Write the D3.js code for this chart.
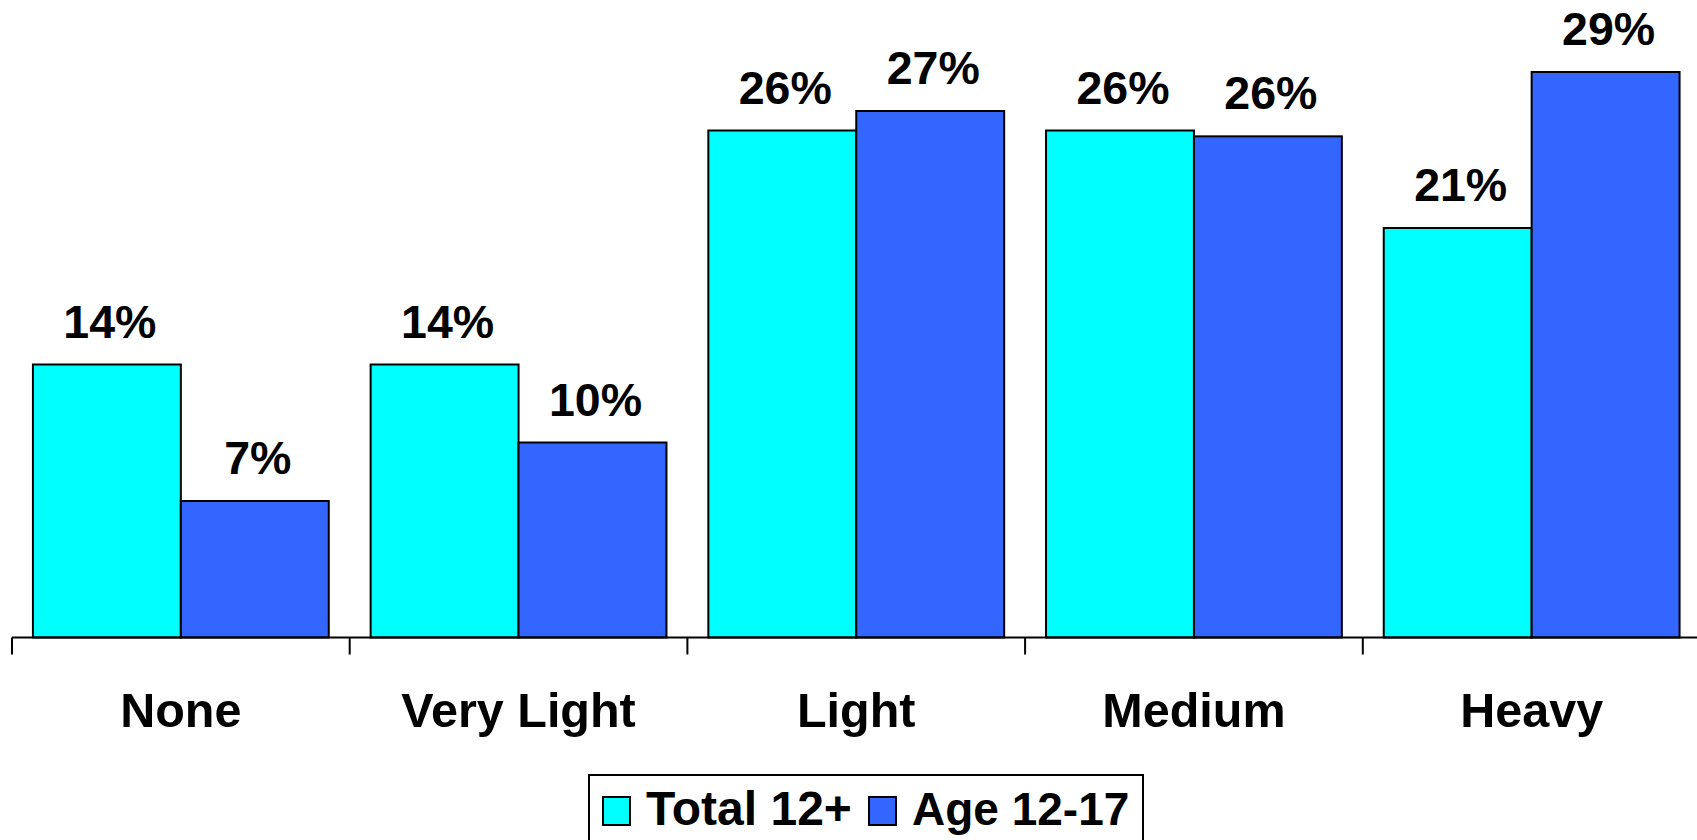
<!DOCTYPE html>
<html>
<head>
<meta charset="utf-8">
<script src="https://cdn.jsdelivr.net/npm/d3@7/dist/d3.min.js"></script>
<style>
  html, body { margin: 0; padding: 0; background: #fff; overflow: hidden; }
  svg { display: block; }
  text { font-family: "Liberation Sans", Arial, sans-serif; font-weight: bold; fill: #000; }
</style>
</head>
<body>
<svg id="chart" width="1697" height="840"></svg>
<script>
const categories = ["None", "Very Light", "Light", "Medium", "Heavy"];
const seriesNames = ["Total 12+", "Age 12-17"];
const total12 = [14, 14, 26, 26, 21];
const age1217 = [7, 10, 27, 25.7, 29];
const colors = ["#00FFFF", "#3366FF"];

const svg = d3.select("#chart");
const baseY = 637.5;

const y = d3.scaleLinear().domain([0, 30]).range([baseY, baseY - 585]);
const x = d3.scaleBand().domain(categories).range([12, 1700.5]).padding(0);
const groupPad = 0.062 * x.bandwidth();
const xs = d3.scaleBand().domain(seriesNames).range([groupPad, x.bandwidth() - groupPad]).padding(0);

const data = categories.map((c, i) => ({
  cat: c,
  vals: [ { s: seriesNames[0], v: total12[i] }, { s: seriesNames[1], v: age1217[i] } ]
}));

const g = svg.append("g");
const groups = g.selectAll("g.grp").data(data).enter().append("g")
  .attr("transform", d => `translate(${x(d.cat)},0)`);

groups.selectAll("rect").data(d => d.vals).enter().append("rect")
  .attr("x", d => xs(d.s))
  .attr("width", xs.bandwidth())
  .attr("y", d => y(d.v))
  .attr("height", d => baseY - y(d.v))
  .attr("fill", (d, i) => colors[i])
  .attr("stroke", "#000")
  .attr("stroke-width", 2);

groups.selectAll("text.val").data(d => d.vals).enter().append("text")
  .attr("class", "val")
  .attr("x", d => xs(d.s) + xs.bandwidth() / 2 + 3)
  .attr("y", d => y(d.v) - 27)
  .attr("text-anchor", "middle")
  .style("font-size", "46.5px")
  .text(d => Math.round(d.v) + "%");

// axis
const axis = d3.axisBottom(x).tickSize(0).tickFormat("");
const ax = svg.append("g").attr("transform", `translate(0,${baseY})`).call(axis);
ax.select(".domain").attr("stroke", "#000").attr("stroke-width", 2).attr("d", `M12,0H1700.5`);
const bounds = categories.map(c => x(c)).concat([x(categories[categories.length - 1]) + x.bandwidth()]);
ax.selectAll("line.bt").data(bounds).enter().append("line")
  .attr("class", "bt")
  .attr("x1", d => d).attr("x2", d => d)
  .attr("y1", 0).attr("y2", 17)
  .attr("stroke", "#000").attr("stroke-width", 2);

// category labels
svg.selectAll("text.cat").data(categories).enter().append("text")
  .attr("class", "cat")
  .attr("x", d => x(d) + x.bandwidth() / 2)
  .attr("y", 727)
  .attr("text-anchor", "middle")
  .style("font-size", "48.5px")
  .text(d => d);

// legend
const leg = svg.append("g");
leg.append("rect").attr("x", 589).attr("y", 775).attr("width", 554).attr("height", 80)
  .attr("fill", "#fff").attr("stroke", "#000").attr("stroke-width", 2);
const legItems = [
  { name: seriesNames[0], color: colors[0], sx: 603, tx: 646, fs: 48 },
  { name: seriesNames[1], color: colors[1], sx: 869, tx: 912, fs: 46 }
];
legItems.forEach(it => {
  leg.append("rect").attr("x", it.sx).attr("y", 797).attr("width", 27).attr("height", 28)
    .attr("fill", it.color).attr("stroke", "#000").attr("stroke-width", 2);
  leg.append("text").attr("x", it.tx).attr("y", 825).style("font-size", it.fs + "px").text(it.name);
});
</script>
</body>
</html>
